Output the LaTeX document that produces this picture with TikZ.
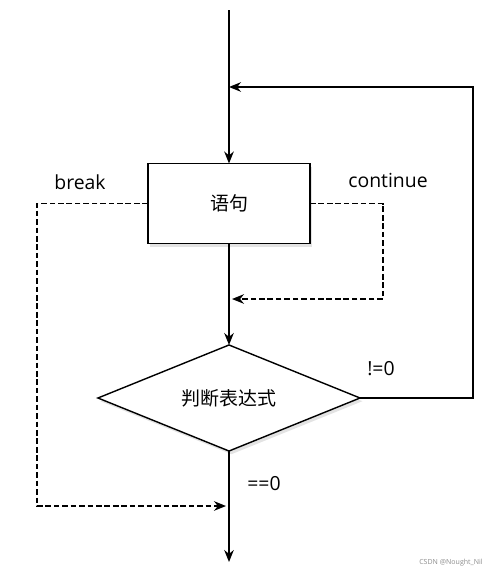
\documentclass[tikz,border=0pt]{standalone}
\usepackage{fontspec}
\setmainfont{Open Sans}
\newfontfamily\cjk{Noto Sans CJK SC}
\usetikzlibrary{positioning,arrows.meta,shapes.geometric,shadows}
\tikzset{
  shd/.style  ={drop shadow={shadow xshift=0.6mm, shadow yshift=-0.8mm, fill=black!22}},
  stmtbox/.style={draw, line width=1pt, fill=white, shd, minimum width=4.05cm,
                 minimum height=2.0cm, outer sep=0pt, font=\cjk\fontsize{13.5}{15}\selectfont},
  cond/.style ={diamond, draw, line width=1pt, fill=white, shd, shape aspect=2.45,
                 minimum width=6.55cm, minimum height=2.65cm, inner sep=0pt, outer sep=0pt,
                 font=\cjk\fontsize{13.5}{15}\selectfont},
  lbl/.style  ={font=\fontsize{13.8}{16}\selectfont, inner sep=1pt},
  fl/.style   ={-{Stealth[length=3mm,width=2.4mm]}, line width=1pt},
  dfl/.style  ={fl, dash pattern=on 4pt off 2pt}
}

\begin{document}
\begin{tikzpicture}[x=0.025cm, y=-0.025cm]
  \useasboundingbox (0,0) rectangle (500,572);

  \coordinate (start) at (229,10);
  \node[stmtbox] (stmt) at (229,203.5) {语句};
  \node[cond] (test) at (229,398) {判断表达式};
  \coordinate (exit) at (229,562);

  % loop back
  \coordinate (rb) at (473,398);
  \coordinate (rt) at (473,87);
  \coordinate (back) at (229,87);

  % break / continue
  \coordinate (bk) at (37,506);
  \coordinate (bkend) at (226,506);
  \coordinate (ct) at (383,299);
  \coordinate (ctend) at (232,299);

  \node[lbl] (brk) at (80,182) {break};
  \node[lbl] (cont) at (388,180) {continue};
  \node[lbl] (ne) at (381,369) {!=0};
  \node[lbl] (eq) at (264,484) {==0};
  \node[font=\fontsize{5}{6}\selectfont, text=black!45] (wm) at (451,563) {CSDN @Nought\_Nil};

  \draw[fl](start)--(stmt);
  \draw[fl](stmt)--(test);
  \draw[fl](test)--(exit);
  \draw[fl](test.east)--(rb)--(rt)--(back);
  \draw[dfl](stmt.west) -| (bk) -- (bkend);
  \draw[dfl](stmt.east) -| (ct) -- (ctend);
\end{tikzpicture}
\end{document}
